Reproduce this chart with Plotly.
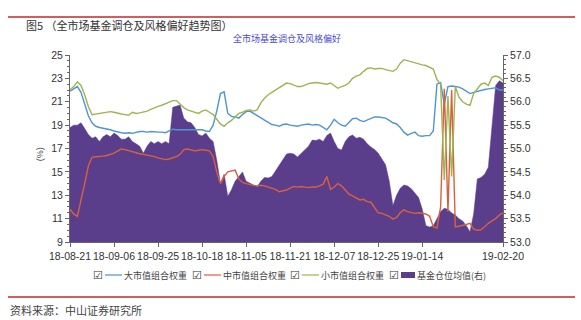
import pandas as pd
import plotly.graph_objects as go

# ---- data ----
holidays = ["2018-09-24", "2018-10-01", "2018-10-02", "2018-10-03", "2018-10-04", "2018-10-05",
            "2018-12-31", "2019-01-01", "2019-02-04", "2019-02-05", "2019-02-06", "2019-02-07", "2019-02-08"]
days = [d for d in pd.bdate_range("2018-08-21", "2019-02-20") if d.strftime("%Y-%m-%d") not in holidays]
dates = [d.strftime("%y-%m-%d") for d in days]

tick_labels = ["18-08-21", "18-09-06", "18-09-25", "18-10-18", "18-11-05", "18-11-21",
               "18-12-07", "18-12-25", "19-01-14", "19-02-20"]

large_cap = [21.9, 22.1, 22.3, 21.8, 20.8, 19.8, 19.2, 18.9, 18.8, 18.75,
             18.7, 18.6, 18.5, 18.4, 18.35, 18.3, 18.35, 18.3, 18.4, 18.45,
             18.45, 18.4, 18.45, 18.4, 18.4, 18.4, 18.35, 18.5, 18.65, 18.6,
             18.6, 18.65, 18.6, 18.6, 18.6, 18.6, 18.6, 18.5, 18.45, 19.0,
             20.2, 21.7, 21.85, 20.0, 19.75, 19.7, 19.6, 19.9, 20.15, 20.2,
             20.0, 19.8, 19.6, 19.4, 19.2, 19.05, 19.0, 18.9, 19.05, 19.1,
             19.0, 18.95, 18.9, 19.0, 19.05, 19.1, 19.0, 19.05, 19.0, 18.8,
             18.6, 19.0, 19.5, 19.2, 19.0, 18.9, 19.2, 19.55, 19.6, 19.4,
             19.3, 19.45, 19.6, 19.7, 19.7, 19.65, 19.6, 19.4, 19.2, 19.1,
             18.8, 18.4, 18.15, 18.3, 18.4, 18.1, 18.05, 18.1, 18.1, 18.5,
             22.5, 22.65, 20.8, 22.3, 22.35, 22.3, 22.25, 22.1, 21.9, 21.7,
             21.8, 21.9, 22.0, 22.05, 22.1, 22.15, 22.2, 22.0, 22.0]

mid_cap = [11.8, 11.4, 11.2, 12.5, 14.0, 15.5, 16.25, 16.3, 16.3, 16.35,
           16.4, 16.5, 16.6, 16.8, 16.95, 16.9, 16.8, 16.75, 16.6, 16.55,
           16.5, 16.45, 16.35, 16.3, 16.2, 16.15, 16.05, 16.1, 16.2, 16.3,
           16.5, 16.9, 16.95, 16.85, 16.8, 16.85, 16.9, 16.85, 16.8, 16.3,
           15.0, 14.0, 14.6, 15.0, 15.1, 15.15, 14.4, 14.1, 14.0, 13.9,
           13.85, 13.8, 13.85, 13.8, 13.7, 13.65, 13.5, 13.3, 13.35, 13.45,
           13.6, 13.75, 13.7, 13.75, 13.7, 13.65, 13.7, 13.7, 13.8, 13.95,
           14.6, 13.5, 13.7, 14.0, 13.8, 13.4, 13.1, 12.95, 12.8, 12.6,
           12.65, 12.45, 12.4, 12.0, 11.5, 11.45, 11.3, 11.2, 10.95, 11.1,
           11.5, 11.75, 11.6, 11.5, 11.45, 11.5, 11.45, 11.4, 11.2, 10.3,
           10.2, 12.0, 22.1, 11.6, 22.0, 10.3, 10.35, 10.4, 10.5, 10.6,
           10.1, 10.0, 10.05, 10.3, 10.6, 10.8, 11.0, 11.3, 11.5]

small_cap = [22.0, 22.3, 22.7, 22.4, 21.6, 20.6, 19.9, 19.95, 20.0, 20.05,
             20.1, 20.15, 20.1, 20.0, 19.95, 19.9, 19.85, 20.1, 20.0, 20.05,
             20.1, 20.2, 20.35, 20.5, 20.6, 20.7, 20.85, 21.0, 21.1, 21.1,
             20.8, 20.5, 20.3, 20.2, 20.05, 20.0, 20.2, 20.3, 20.1, 19.9,
             19.5, 19.1, 18.9, 19.2, 19.4, 19.7, 20.0, 20.1, 20.25, 20.3,
             20.2, 20.3, 20.9, 21.3, 21.6, 21.8, 22.0, 22.2, 22.45, 22.6,
             22.55, 22.45, 22.3, 22.3, 22.45, 22.55, 22.6, 22.65, 22.6, 22.55,
             22.5, 22.6, 22.35, 22.15, 22.3, 22.4, 22.6, 23.0, 23.2, 23.3,
             23.6, 23.85, 23.9, 23.8, 23.85, 23.85, 23.75, 23.65, 23.6, 23.8,
             24.3, 24.6, 24.5, 24.4, 24.3, 24.25, 24.15, 24.1, 23.95, 23.8,
             22.9, 22.5, 14.3, 21.5, 14.6, 22.3, 21.4, 21.0, 20.8, 20.7,
             21.7, 22.1, 22.5, 22.6, 22.4, 23.1, 23.2, 23.1, 22.8]

fund_position = [55.45, 55.5, 55.5, 55.55, 55.43, 55.3, 55.22, 55.25, 55.15, 55.25,
                 55.3, 55.25, 55.33, 55.28, 55.2, 55.2, 55.25, 55.15, 55.1, 55.05,
                 54.9, 55.05, 55.15, 55.1, 55.15, 55.1, 55.15, 55.1, 55.88, 55.9,
                 55.93, 55.65, 55.57, 55.55, 55.45, 55.3, 55.27, 55.33, 55.22, 55.15,
                 54.75, 54.25, 54.45, 53.98, 54.12, 54.3, 54.4, 54.5, 54.3, 54.26,
                 54.22, 54.18, 54.3, 54.38, 54.37, 54.4, 54.52, 54.65, 54.78, 54.88,
                 54.9, 54.88, 54.82, 54.9, 54.97, 55.05, 55.18, 55.17, 55.2, 55.15,
                 55.28, 55.33, 55.15, 55.0, 54.97, 55.15, 55.25, 55.29, 55.22, 55.24,
                 55.2, 55.1, 55.03, 54.98, 54.9, 54.78, 54.65, 54.3, 53.78, 54.0,
                 54.15, 54.22, 54.2, 54.14, 54.05, 53.95, 53.7, 53.35, 53.32, 53.35,
                 53.5, 53.65, 53.72, 53.7, 53.62, 53.58, 53.5, 53.45, 53.35, 53.22,
                 53.6, 54.35, 54.38, 54.45, 54.6, 55.5, 56.35, 56.45, 56.4]

series_names = ["大市值组合权重", "中市值组合权重", "小市值组合权重", "基金仓位均值(右)"]
c_blue, c_red, c_green, c_purple = "#4f95cf", "#d9603f", "#9db552", "#5a3e8c"

CJK = "Noto Sans CJK SC"
LAT = "Liberation Sans"

fig = go.Figure()
fig.add_trace(go.Scatter(x=dates, y=fund_position, name=series_names[3], mode="lines",
                         line=dict(color=c_purple, width=0.5), fill="tozeroy",
                         fillcolor=c_purple, yaxis="y"))
fig.add_trace(go.Scatter(x=dates, y=large_cap, name=series_names[0], mode="lines",
                         line=dict(color=c_blue, width=1.4), yaxis="y2"))
fig.add_trace(go.Scatter(x=dates, y=mid_cap, name=series_names[1], mode="lines",
                         line=dict(color=c_red, width=1.4), yaxis="y2"))
fig.add_trace(go.Scatter(x=dates, y=small_cap, name=series_names[2], mode="lines",
                         line=dict(color=c_green, width=1.4), yaxis="y2"))

axis_common = dict(showline=True, linecolor="#666", linewidth=1, ticks="outside",
                   tickcolor="#666", ticklen=4, showgrid=False, zeroline=False)

fig.update_layout(
    width=581, height=320,
    margin=dict(l=70, r=78, t=55, b=78),
    paper_bgcolor="white", plot_bgcolor="white",
    showlegend=False,
    xaxis=dict(type="category", range=[0, len(dates) - 1], tickmode="array",
               tickvals=tick_labels, ticktext=tick_labels, tickangle=0,
               tickfont=dict(family=LAT, size=10.5, color="#333"), **axis_common),
    yaxis=dict(side="right", range=[53, 57], tick0=53, dtick=0.5, tickformat=".1f",
               minor=dict(dtick=0.1, ticklen=2, tickcolor="#666", ticks="outside"),
               tickfont=dict(family=LAT, size=10.5, color="#333"), **axis_common),
    yaxis2=dict(side="left", overlaying="y", range=[9, 25], tick0=9, dtick=2,
                minor=dict(dtick=0.5, ticklen=2, tickcolor="#666", ticks="outside"),
                tickfont=dict(family=LAT, size=10.5, color="#333"), **axis_common),
)

# header / footer
fig.add_annotation(xref="paper", yref="paper", x=-0.106, y=1.16, xanchor="left", yanchor="middle",
                   text="图5 （全市场基金调仓及风格偏好趋势图）", showarrow=False,
                   font=dict(family=CJK, size=11, color="#333"))
fig.add_annotation(xref="paper", yref="paper", x=0.5, y=1.09, xanchor="center", yanchor="middle",
                   text="全市场基金调仓及风格偏好", showarrow=False,
                   font=dict(family=CJK, size=9, color="#4a4ad0"))
fig.add_annotation(xref="paper", yref="paper", x=-0.069, y=0.47, xanchor="center", yanchor="middle",
                   text="(%)", textangle=-90, showarrow=False,
                   font=dict(family=LAT, size=9, color="#444"))
fig.add_annotation(xref="paper", yref="paper", x=-0.143, y=-0.363, xanchor="left", yanchor="middle",
                   text="资料来源：中山证券研究所", showarrow=False,
                   font=dict(family=CJK, size=11, color="#444"))

# red rules (figure decoration)
W, H = 581, 320
pw, ph = W - 70 - 78, H - 55 - 78
def px(xp): return (xp - 70) / pw
def py(yp): return (H - 78 - yp) / ph
fig.add_shape(type="line", xref="paper", yref="paper", x0=px(8), x1=px(575), y0=py(17), y1=py(17),
              line=dict(color="#c0282d", width=1.5))
fig.add_shape(type="line", xref="paper", yref="paper", x0=px(8), x1=px(575), y0=py(297), y1=py(297),
              line=dict(color="#c0282d", width=1.5))

# manual legend
leg_y = 275
leg_x = [98, 197, 295, 394]
leg_colors = [c_blue, c_red, c_green, c_purple]
for i, (lx, name, col) in enumerate(zip(leg_x, series_names, leg_colors)):
    fig.add_annotation(xref="paper", yref="paper", x=px(lx), y=py(leg_y), xanchor="center",
                       yanchor="middle", text="☑", showarrow=False,
                       font=dict(family="DejaVu Sans", size=11, color="#333"))
    if i < 3:
        fig.add_shape(type="line", xref="paper", yref="paper", x0=px(lx + 7), x1=px(lx + 24),
                      y0=py(leg_y), y1=py(leg_y), line=dict(color=col, width=1.2))
        tx = lx + 24
    else:
        fig.add_shape(type="rect", xref="paper", yref="paper", x0=px(lx + 7), x1=px(lx + 21),
                      y0=py(leg_y + 3), y1=py(leg_y - 3), line=dict(width=0), fillcolor=col)
        tx = lx + 21
    fig.add_annotation(xref="paper", yref="paper", x=px(tx), y=py(leg_y), xanchor="left",
                       yanchor="middle", text=name, showarrow=False,
                       font=dict(family=CJK, size=9, color="#444"))

fig.write_html("out.html")
